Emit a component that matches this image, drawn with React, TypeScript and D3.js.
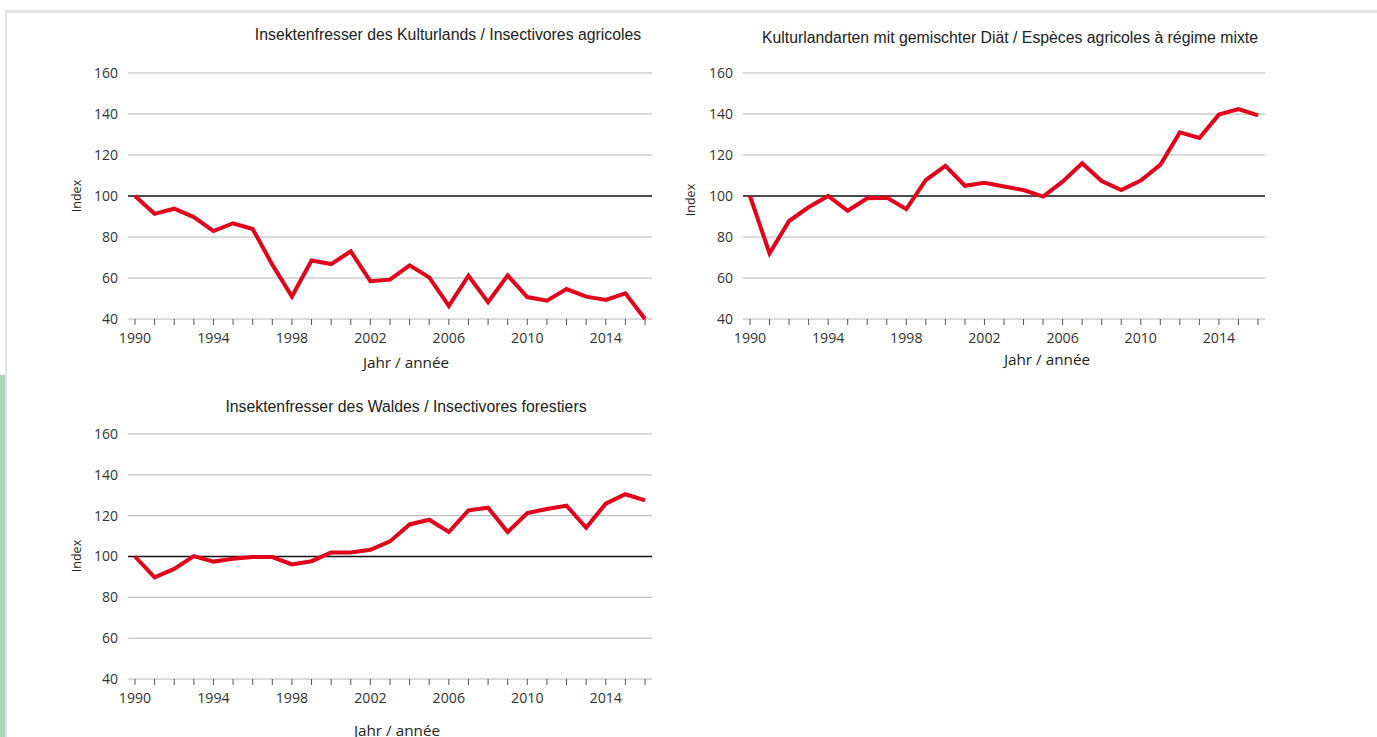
import React from 'react';
import * as d3 from 'd3';

const years = d3.range(1990, 2017);
const yTicks = [40, 60, 80, 100, 120, 140, 160];
const xLabelYears = [1990, 1994, 1998, 2002, 2006, 2010, 2014];

const agriInsectivores = [100, 91.3, 93.8, 89.7, 82.9, 86.7, 83.9, 66.5, 51, 68.5, 66.8, 73, 58.4, 59.2, 66.2, 60.3, 46.4, 61.1, 48.2, 61.3, 50.7, 48.9, 54.6, 50.9, 49.3, 52.5, 40];
const agriMixed = [100, 72, 87.8, 94.5, 100, 92.8, 98.9, 99.2, 93.6, 107.8, 114.7, 105, 106.5, 104.6, 102.9, 99.7, 107, 116, 107.3, 102.9, 107.5, 115.2, 131, 128.3, 139.7, 142.4, 139.3];
const forestInsectivores = [100, 89.8, 93.9, 100.2, 97.5, 98.9, 99.8, 99.7, 96.1, 97.7, 102, 102, 103.3, 107.4, 115.7, 118, 112, 122.6, 123.9, 112, 121.3, 123.3, 124.9, 114.1, 125.9, 130.5, 127.5];

const titles = [
  'Insektenfresser des Kulturlands / Insectivores agricoles',
  'Kulturlandarten mit gemischter Diät / Espèces agricoles à régime mixte',
  'Insektenfresser des Waldes / Insectivores forestiers',
];

const tickFont = '"Open Sans", "Noto Sans", sans-serif';
const titleFont = '"Liberation Sans", Arial, sans-serif';

interface PanelProps {
  values: number[];
  title: string;
  x0: number; // x of 1990
  x1: number; // x of 2016
  yTop: number; // y of 160
  yBottom: number; // y of 40
  titleX: number;
  titleY: number;
  xLabelX: number;
  xLabelY: number;
  indexX: number;
  indexY: number;
}

const Panel: React.FC<PanelProps> = ({ values, title, x0, x1, yTop, yBottom, titleX, titleY, xLabelX, xLabelY, indexX, indexY }) => {
  const x = d3.scaleLinear().domain([1990, 2016]).range([x0, x1]);
  const y = d3.scaleLinear().domain([40, 160]).range([yBottom, yTop]);
  const line = d3.line<number>()
    .x((_, i) => x(years[i]))
    .y(d => y(d));
  const gridL = x0 - 7;
  const gridR = x1 + 7;

  return (
    <g>
      <text x={titleX} y={titleY} textAnchor="middle" fontFamily={titleFont} fontSize={15.8} fill="#222">{title}</text>
      {yTicks.map(t => (
        <g key={t}>
          <line x1={gridL} x2={gridR} y1={y(t)} y2={y(t)}
            stroke={t === 100 ? '#111' : '#b4b4b4'} strokeWidth={t === 100 ? 1.5 : 1} />
          <text x={gridL - 10} y={y(t)} dy="0.35em" textAnchor="end" fontFamily={tickFont} fontSize={14} fill="#333">{t}</text>
        </g>
      ))}
      {years.map(yr => (
        <line key={yr} x1={x(yr)} x2={x(yr)} y1={yBottom} y2={yBottom + 6} stroke="#555" strokeWidth={1} />
      ))}
      {xLabelYears.map(yr => (
        <text key={yr} x={x(yr)} y={yBottom + 24} textAnchor="middle" fontFamily={tickFont} fontSize={14.2} fill="#333">{yr}</text>
      ))}
      <path d={line(values) ?? ''} fill="none" stroke="#e2001a" strokeWidth={4} strokeLinejoin="miter" />
      <text x={xLabelX} y={xLabelY} textAnchor="middle" fontFamily={tickFont} fontSize={15.3} fill="#222">Jahr / année</text>
      <text transform={`translate(${indexX},${indexY}) rotate(-90)`} textAnchor="middle" fontFamily={tickFont} fontSize={12.5} fill="#222">Index</text>
    </g>
  );
};

export default function App() {
  return (
    <svg width={1377} height={737} style={{ position: 'absolute', left: 0, top: 0, background: '#fff' }}>
      <rect x={0} y={0} width={1377} height={737} fill="#fff" />
      {/* page frame */}
      <rect x={5} y={10} width={1372} height={3} fill="#e2e2e2" />
      <rect x={5} y={10} width={2} height={727} fill="#e2e2e2" />
      <rect x={0} y={375} width={5} height={362} fill="#a9d2b9" />

      <Panel values={agriInsectivores} title={titles[0]}
        x0={135} x1={645} yTop={73} yBottom={319}
        titleX={448} titleY={40} xLabelX={406} xLabelY={368} indexX={81} indexY={196} />
      <Panel values={agriMixed} title={titles[1]}
        x0={750} x1={1258} yTop={73} yBottom={319}
        titleX={1010} titleY={43} xLabelX={1047} xLabelY={365} indexX={695} indexY={200} />
      <Panel values={forestInsectivores} title={titles[2]}
        x0={135} x1={645} yTop={434} yBottom={679}
        titleX={406} titleY={412} xLabelX={397} xLabelY={736} indexX={81} indexY={556} />
    </svg>
  );
}
